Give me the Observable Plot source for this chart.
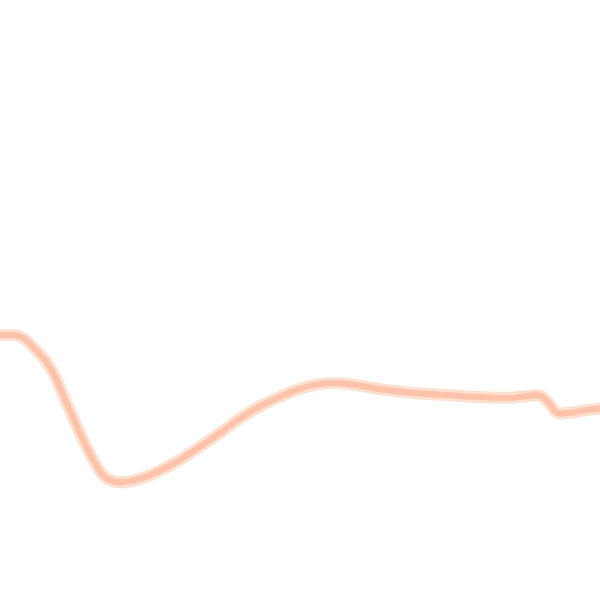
<!DOCTYPE html>
<html>
<head>
<meta charset="utf-8">
<script src="https://cdn.jsdelivr.net/npm/d3@7"></script>
<script src="https://cdn.jsdelivr.net/npm/@observablehq/plot@0.6"></script>
<style>
  html, body { margin: 0; padding: 0; background: #fff; }
  #chart svg { display: block; }
</style>
</head>
<body>
<div id="chart"></div>
<script>
const xs = [0, 3.3, 5.5, 8.3, 11.2, 13.8, 15.8, 17.5, 20, 23.3, 26.7, 30, 33.3, 36.7, 40, 43.3, 46.7, 50, 53.3, 56.7, 60, 63.3, 66.7, 70, 75, 80, 85, 88, 90, 91.5, 92.8, 95, 97.5, 100];
const ys = [44.2, 44.0, 42.2, 38.8, 32.5, 26.7, 22.8, 20.5, 19.7, 20.3, 21.7, 23.5, 25.7, 28.0, 30.4, 32.4, 34.0, 35.3, 36.1, 36.2, 35.8, 35.2, 34.8, 34.5, 34.2, 33.9, 33.8, 34.1, 34.1, 32.8, 31.3, 31.3, 31.7, 32.0];

const data = xs.map((x, i) => ({x, y: ys[i]}));

const chart = Plot.plot({
  width: 600,
  height: 600,
  margin: 0,
  x: {domain: [0, 100], axis: null},
  y: {domain: [0, 100], axis: null},
  marks: [
    Plot.line(data, {x: "x", y: "y", stroke: "#fee0d0", strokeWidth: 12, curve: "catmull-rom"}),
    Plot.line(data, {x: "x", y: "y", stroke: "#fdc3aa", strokeWidth: 6, curve: "catmull-rom"})
  ]
});
document.getElementById("chart").append(chart);
</script>
</body>
</html>
